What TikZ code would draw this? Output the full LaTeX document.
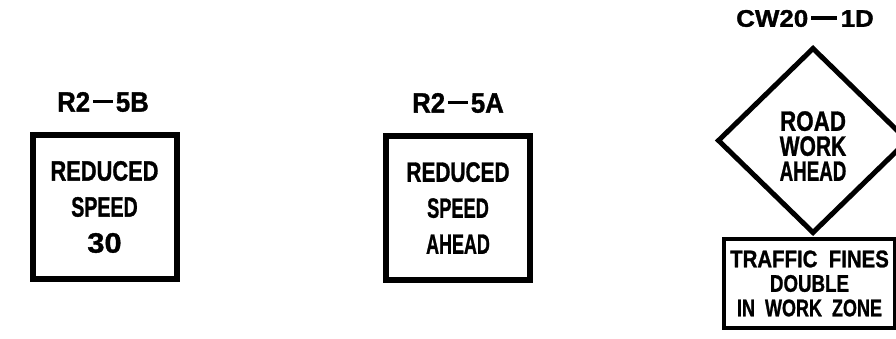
\documentclass[tikz,border=0pt]{standalone}
\usepackage{fontspec}
\usepackage{graphicx}
\newfontfamily\signfont{Liberation Sans Bold}[FakeBold=1.2]
\usetikzlibrary{shapes.geometric}
\newcommand{\sgdash}[2]{\hspace{3pt}\rule[#1]{#2}{3.5pt}\hspace{3pt}}
\newcommand{\sx}[2]{\scalebox{#1}[1]{#2}}
\begin{document}
\begin{tikzpicture}[x=1pt,y=-1pt,
  code/.style={inner sep=0pt, outer sep=0pt, font=\signfont\fontsize{28}{28}\selectfont},
  signbox/.style={draw, line width=6pt, minimum width=144pt, minimum height=144pt,
    inner sep=0pt, outer sep=0pt, align=center,
    font=\signfont\fontsize{28}{36}\selectfont},
  warn/.style={draw, diamond, line width=5pt, minimum width=189pt, minimum height=184pt,
    inner sep=0pt, outer sep=0pt, line join=miter},
  warntext/.style={inner sep=0pt, align=center, font=\signfont\fontsize{28}{25}\selectfont},
  platebox/.style={draw, line width=4pt, minimum width=171pt, minimum height=89pt,
    inner sep=0pt, outer sep=0pt, align=center,
    font=\signfont\fontsize{24}{24.5}\selectfont}]
\useasboundingbox (0,0) rectangle (896,339);
\clip (0,0) rectangle (896,339);
\fill[white] (0,0) rectangle (896,339);

% R2-5B
\node[code] (lblB) at (103,102) {\sx{0.92}{R2\sgdash{8.2pt}{22pt}5B}};
\node[signbox] (signB) at (104.5,207) {\sx{0.78}{REDUCED}\\\sx{0.70}{SPEED}\\\sx{1.1}{30}};

% R2-5A
\node[code] (lblA) at (458,103) {\sx{0.92}{R2\sgdash{8.2pt}{22pt}5A}};
\node[signbox] (signA) at (458,208) {\sx{0.745}{REDUCED}\\\sx{0.65}{SPEED}\\\sx{0.64}{AHEAD}};

% CW20-1D
\node[code, font=\signfont\fontsize{24}{24}\selectfont] (lblC) at (805,18.5)
  {\sx{1.08}{CW20\sgdash{6.8pt}{24pt}1D}};
\node[warn] (diam) at (813,140.5) {};
\node[warntext] (diamtxt) at (813,146) {\sx{0.8}{ROAD}\\\sx{0.75}{WORK}\\\sx{0.67}{AHEAD}};
\node[platebox] (plate) at (809.5,283.5)
  {\sx{0.85}{TRAFFIC\ \ FINES}\\\sx{0.78}{DOUBLE}\\\sx{0.75}{IN\ \ WORK\ \ ZONE}};
\end{tikzpicture}
\end{document}
